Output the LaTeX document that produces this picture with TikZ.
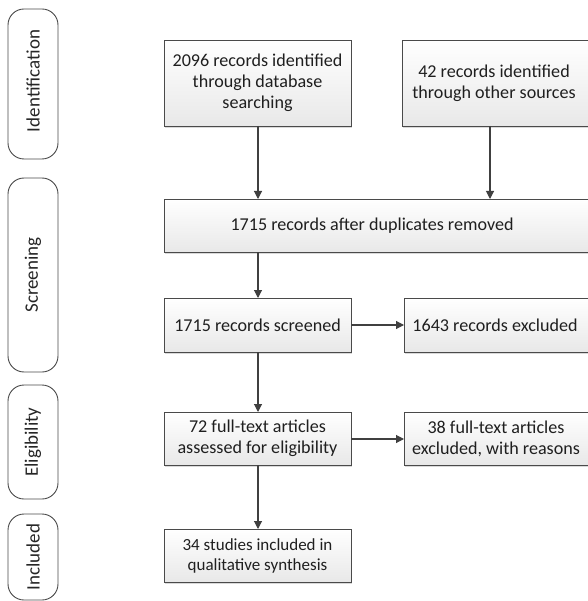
\documentclass[tikz,border=0pt]{standalone}
\usepackage{fontspec}
\setmainfont{Carlito}
\usetikzlibrary{arrows.meta,shadows}
\definecolor{edge}{HTML}{4A4A4A}
\definecolor{wire}{HTML}{404040}
\tikzset{
  flowbox/.style={draw=edge, line width=0.9pt, top color=white, bottom color=black!9,
    drop shadow={shadow xshift=1.2pt, shadow yshift=-1.8pt, fill=black!25, opacity=0.6}},
  boxtext/.style={align=center, inner sep=0pt, font=\fontsize{18.1}{21}\selectfont, text=black!88},
  smalltext/.style={align=center, inner sep=0pt, font=\fontsize{17}{20}\selectfont, text=black!88},
  phase/.style={draw=edge, line width=0.9pt, fill=white, rounded corners=16pt},
  phasetext/.style={rotate=90, font=\fontsize{19}{22}\selectfont, text=black!85},
  flow/.style={draw=wire, line width=1.1pt, -{Triangle[length=8pt,width=8pt]}},
}
\begin{document}
\begin{tikzpicture}[x=1pt,y=-1pt]
\useasboundingbox (0,0) rectangle (587,601);
% phase labels on the left
\draw[phase] (8,9) rectangle (58,159);
\node[phasetext] (pid) at (33,81) {Identification};
\draw[phase] (8,178) rectangle (58,372);
\node[phasetext] (psc) at (33,275) {Screening};
\draw[phase] (8,385) rectangle (58,499);
\node[phasetext] (pel) at (33,442) {Eligibility};
\draw[phase] (8,514) rectangle (58,600);
\node[phasetext] (pin) at (33,557) {Included};
% flow boxes
\path[flowbox] (164,40) rectangle (351,126);
\node[boxtext] (db) at (257.5,82.5) {2096 records identified\\through database\\searching};
\path[flowbox] (402,40) rectangle (600,126);
\node[boxtext] (oth) at (494,83) {42 records identified\\through other sources};
\path[flowbox] (164,199) rectangle (600,252);
\node[boxtext] (dup) at (372,225.5) {1715 records after duplicates removed};
\path[flowbox] (164,298) rectangle (351,352);
\node[boxtext] (scr) at (257.5,325) {1715 records screened};
\path[flowbox] (404,298) rectangle (600,352);
\node[boxtext] (exc) at (495,325) {1643 records excluded};
\path[flowbox] (164,412) rectangle (351,465);
\node[boxtext] (full) at (257.5,438.5) {72 full-text articles\\assessed for eligibility};
\path[flowbox] (404,412) rectangle (600,465);
\node[boxtext] (fexc) at (496,438.5) {38 full-text articles\\excluded, with reasons};
\path[flowbox] (164,529) rectangle (351,582);
\node[smalltext] (inc) at (257.5,555.5) {34 studies included in\\qualitative synthesis};
% anchor points on the box edges
\coordinate (dbB) at (258,126);
\coordinate (othB) at (490,126);
\coordinate (dupT1) at (258,199);
\coordinate (dupT2) at (490,199);
\coordinate (dupB) at (258,252);
\coordinate (scrT) at (258,298);
\coordinate (scrR) at (351,325);
\coordinate (excL) at (404,325);
\coordinate (scrB) at (258,352);
\coordinate (fullT) at (258,412);
\coordinate (fullR) at (351,439);
\coordinate (fexcL) at (404,439);
\coordinate (fullB) at (258,465);
\coordinate (incT) at (258,529);
% connectors
\draw[flow] (dbB) -- (dupT1);
\draw[flow] (othB) -- (dupT2);
\draw[flow] (dupB) -- (scrT);
\draw[flow] (scrR) -- (excL);
\draw[flow] (scrB) -- (fullT);
\draw[flow] (fullR) -- (fexcL);
\draw[flow] (fullB) -- (incT);
\end{tikzpicture}
\end{document}
